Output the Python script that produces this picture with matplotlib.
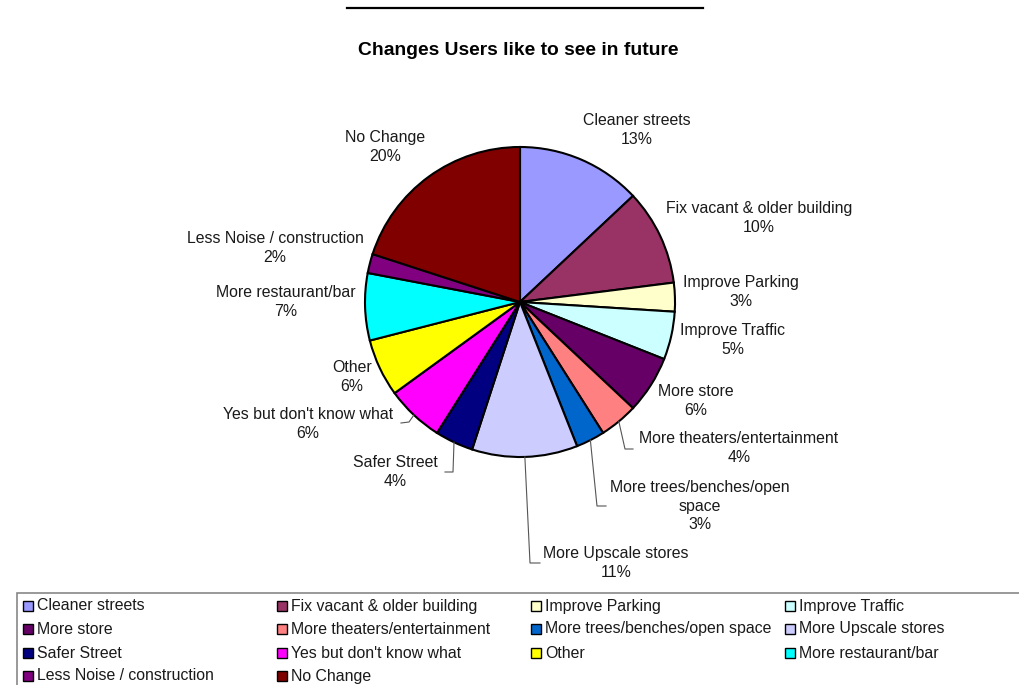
import numpy as np
import matplotlib.pyplot as plt
from matplotlib.patches import Rectangle

plt.rcParams["font.family"] = ["Liberation Sans", "DejaVu Sans"]

categories = [
    "Cleaner streets",
    "Fix vacant & older building",
    "Improve Parking",
    "Improve Traffic",
    "More store",
    "More theaters/entertainment",
    "More trees/benches/open space",
    "More Upscale stores",
    "Safer Street",
    "Yes but don't know what",
    "Other",
    "More restaurant/bar",
    "Less Noise / construction",
    "No Change",
]
shares = [13, 10, 3, 5, 6, 4, 3, 11, 4, 6, 6, 7, 2, 20]
colors = [
    "#9999FF", "#993366", "#FFFFCC", "#CCFFFF", "#660066", "#FF8080", "#0066CC",
    "#CCCCFF", "#000080", "#FF00FF", "#FFFF00", "#00FFFF", "#800080", "#800000",
]
# slice label text (long names wrap)
label_names = list(categories)
label_names[6] = "More trees/benches/open\nspace"

W, H = 1019, 685
CX, CY, R = 520, 302, 155

# label centres in pixels (from top-left)
label_pos = [
    (637, 130), (759, 218), (741, 292), (733, 340), (696, 401), (739, 448),
    (700, 506), (616, 563), (395, 472), (308, 424), (352, 377), (286, 302),
    (275, 248), (385, 147),
]
# leader lines: slice index -> elbow point and end point
leaders = {
    5: [(625, 449), (633, 449)],
    6: [(597, 506), (606, 506)],
    7: [(530, 563), (540, 563)],
    8: [(453, 472), (445, 472)],
    9: [(409, 422), (401, 423)],
}


def py(y):
    return H - y


fig = plt.figure(figsize=(W / 100, H / 100), dpi=100)
ax = fig.add_axes([0, 0, 1, 1])

wedges, _ = ax.pie(
    shares,
    colors=colors,
    startangle=90,
    counterclock=False,
    center=(CX, py(CY)),
    radius=R,
    wedgeprops=dict(edgecolor="black", linewidth=1.5),
)
ax.set_xlim(0, W)
ax.set_ylim(0, H)
ax.set_aspect("equal")
ax.axis("off")

for i, w in enumerate(wedges):
    x, y = label_pos[i]
    ax.text(x, py(y), f"{label_names[i]}\n{shares[i]}%", ha="center",
            va="center", multialignment="center", fontsize=11.4,
            linespacing=1.27, color="#1a1a1a")
    if i in leaders:
        mid = np.deg2rad((w.theta1 + w.theta2) / 2)
        pts = [(CX + R * np.cos(mid), py(CY) + R * np.sin(mid))]
        pts += [(px, py(pyv)) for px, pyv in leaders[i]]
        xs, ys = zip(*pts)
        ax.plot(xs, ys, color="#555555", lw=0.8)

# title and rule above it
ax.plot([347, 703], [py(8), py(8)], color="black", lw=1.6)
ax.text(518, py(50), "Changes Users like to see in future", ha="center",
        va="center", fontsize=13.9, fontweight="bold")

# legend box, four columns
ax.add_patch(Rectangle((17, py(700)), 1030, 107, facecolor="white",
                       edgecolor="#888888", lw=1.2, clip_on=False))
col_x = [23, 277, 531, 785]
row_y = [606, 629, 653, 676]
for i, name in enumerate(categories):
    x = col_x[i % 4]
    y = row_y[i // 4]
    ax.add_patch(Rectangle((x, py(y) - 5), 10, 10, facecolor=colors[i],
                           edgecolor="black", lw=1.0))
    ax.text(x + 14, py(y), name, ha="left", va="center", fontsize=11.4,
            color="#1a1a1a")

fig.savefig("out.png", dpi=100)
